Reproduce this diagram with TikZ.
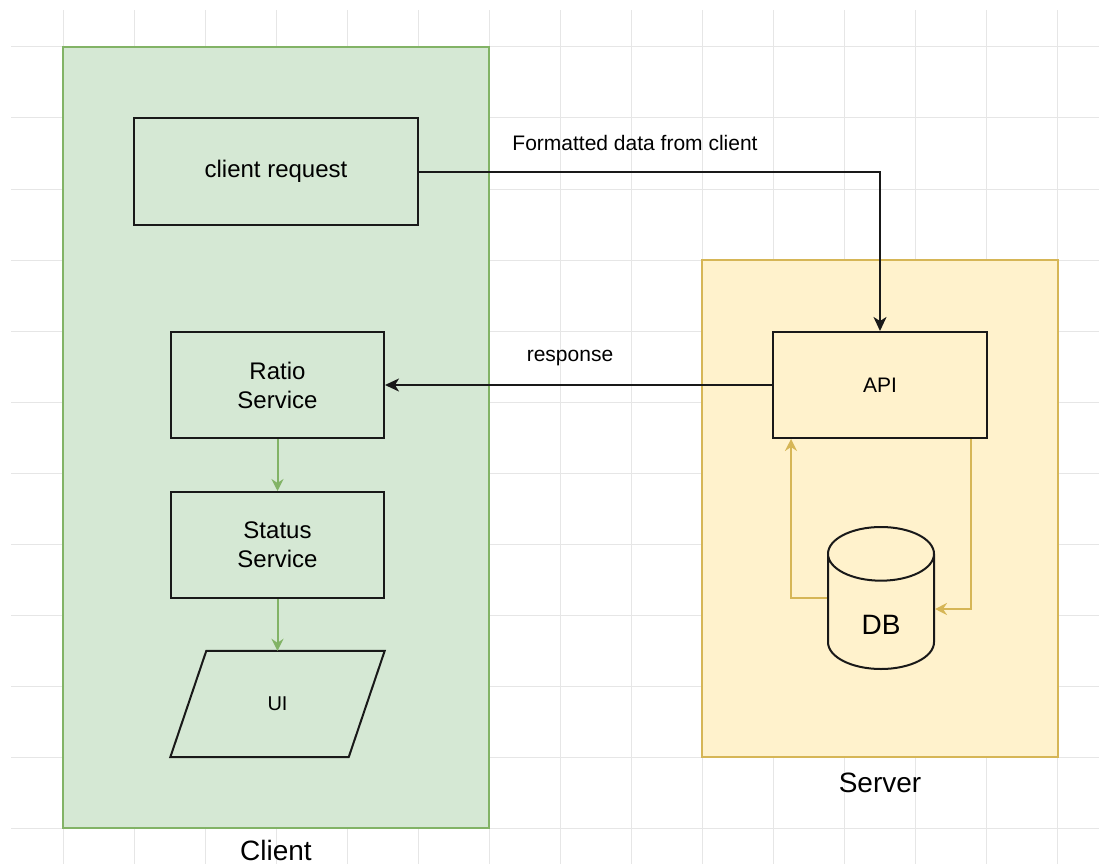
\documentclass[tikz,border=0pt]{standalone}
\usepackage{fontspec}
\setmainfont{Liberation Sans}
\usetikzlibrary{shapes,shapes.geometric,arrows.meta,calc}
\definecolor{gfill}{HTML}{D5E8D4}
\definecolor{gline}{HTML}{82B366}
\definecolor{yfill}{HTML}{FFF2CC}
\definecolor{yline}{HTML}{D6B656}
\definecolor{gridc}{HTML}{E6E6E6}
\tikzset{
  gridline/.style = {draw=gridc, line width=1pt},
  cont_g/.style = {rectangle, draw=gline, fill=gfill, line width=2pt, inner sep=0pt},
  cont_y/.style = {rectangle, draw=yline, fill=yfill, line width=2pt, inner sep=0pt},
  boxnode/.style = {rectangle, draw=black!90, line width=2pt, align=center, inner sep=0pt,
    font=\fontsize{24}{29}\selectfont},
  io_n/.style = {rectangle, inner sep=0pt, font=\fontsize{20}{24}\selectfont},
  io_edge/.style = {draw=black!90, line width=2pt, line join=miter},
  db_n/.style = {cylinder, shape border rotate=90, aspect=1.38, draw=black!90, line width=2pt,
    inner sep=0pt, text height=46pt, text depth=0pt, font=\fontsize{28}{34}\selectfont},
  lbl/.style = {inner sep=0pt, font=\fontsize{21}{25}\selectfont},
  grp_lbl/.style = {inner sep=0pt, font=\fontsize{28}{34}\selectfont},
  conn/.style = {draw=black!90, line width=2pt, -{Stealth[length=14pt,width=13pt,inset=4pt]}},
  g_arr/.style = {draw=gline, line width=2pt, -{Stealth[length=12pt,width=12pt,inset=4pt]}},
  y_arr/.style = {draw=yline, line width=2pt, -{Stealth[length=12pt,width=12pt,inset=4pt]}}
}
\begin{document}
\begin{tikzpicture}[x=1pt, y=-1pt]
\useasboundingbox (0,0) rectangle (1099,864);
\foreach \gx in {63,134,...,1057} \draw[gridline] (\gx,10) -- (\gx,864);
\foreach \gy in {47,118,...,828} \draw[gridline] (11,\gy) -- (1099,\gy);

\node[cont_g, minimum width=426pt, minimum height=781pt] (client) at (276,437.5) {};
\node[grp_lbl] (client_lbl) at (276,850) {Client};
\node[cont_y, minimum width=356pt, minimum height=497pt] (server) at (880,508.5) {};
\node[grp_lbl] (server_lbl) at (880,783) {Server};

\node[boxnode, minimum width=284pt, minimum height=107pt] (creq) at (276,171.5) {client request};
\node[boxnode, minimum width=213pt, minimum height=106pt] (ratio) at (277.5,385) {Ratio\\Service};
\node[boxnode, minimum width=213pt, minimum height=106pt] (status) at (277.5,545) {Status\\Service};
\node[io_n, minimum width=178pt, minimum height=106pt] (ui) at (277.5,704) {UI};
\draw[io_edge] ([xshift=18pt]ui.north west) -- ([xshift=18pt]ui.north east)
  -- ([xshift=-18pt]ui.south east) -- ([xshift=-18pt]ui.south west) -- cycle;

\node[boxnode, minimum width=214pt, minimum height=106pt, font=\fontsize{21}{25}\selectfont] (api) at (880,385) {API};
\node[db_n, minimum width=106pt, minimum height=142pt, anchor=shape center] (db) at (881,598) {DB};

\draw[conn] (creq.east) -| (api.north);
\node[lbl] (fmt_lbl) at (635,143) {Formatted data from client};
\draw[conn] (api.west) -- (ratio.east);
\node[lbl] (resp_lbl) at (570,358) {response};

\draw[g_arr] (ratio.south) -- (status.north);
\draw[g_arr] (status.south) -- (ui.north);

\draw[y_arr] (db.west |- db.shape center) -| ([xshift=19pt]api.south west);
\draw[y_arr] ([xshift=-17pt]api.south east) |- ($(db.east |- db.shape center)+(0,11)$);
\end{tikzpicture}
\end{document}
